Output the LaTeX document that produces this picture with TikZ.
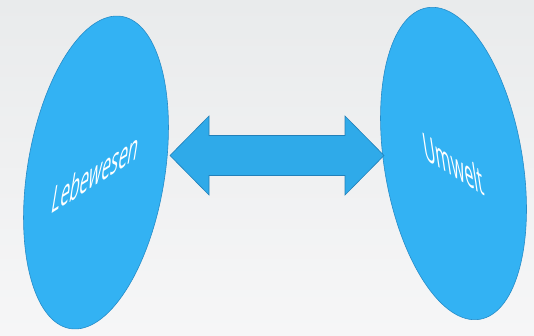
\documentclass[tikz,border=0pt]{standalone}
\usepackage{fontspec}
\setmainfont{Open Sans}
\usetikzlibrary{shapes.geometric}
\definecolor{bgtop}{RGB}{233,235,236}
\definecolor{bgbot}{RGB}{246,246,247}
\definecolor{ellfill}{RGB}{51,178,243}
\definecolor{elldraw}{RGB}{38,140,200}
\definecolor{arrfill}{RGB}{47,170,233}
\definecolor{arrdraw}{RGB}{34,128,185}
\tikzset{
  blob/.style={ellipse, draw=elldraw, fill=ellfill, line width=0.6pt, inner sep=0pt, outer sep=0pt},
  lbl/.style={text=white, font=\fontsize{39}{42}\selectfont, inner sep=0pt},
  bigarrow/.style={draw=arrdraw, fill=arrfill, line width=0.6pt, line join=miter}
}
\begin{document}
\begin{tikzpicture}[x=1pt,y=1pt]
\shade[top color=bgtop, bottom color=bgbot] (0,0) rectangle (534,335);
\useasboundingbox (0,0) rectangle (534,335);
% ellipses
\node[blob, minimum width=137.2pt, minimum height=316.4pt, rotate=-9.4] (leb) at (96,162.5) {};
\node[blob, minimum width=138pt, minimum height=316pt, rotate=9.6] (umw) at (453.5,171.5) {};
% labels
\begin{scope}[shift={(leb.center)}]
\node[lbl, cm={0.4213,0.2694,0.1599,0.9871,(0,0)}] (lebt) at (0,0) {Lebewesen};
\end{scope}
\begin{scope}[shift={(umw.center)}]
\node[lbl, cm={0.4254,-0.2627,-0.1478,0.9890,(0,0)}] (umwt) at (0,0) {Umwelt};
\end{scope}
% double arrow
\coordinate (tipL) at (170,179.5);
\coordinate (tipR) at (384,179.5);
\path[bigarrow] (tipL) -- ++(39,39.5) -- ++(0,-19.5) -- (345,199.5) -- ++(0,19.5) -- (tipR)
  -- (345,140) -- ++(0,19.5) -- (209,159.5) -- ++(0,-19.5) -- cycle;
\end{tikzpicture}
\end{document}
